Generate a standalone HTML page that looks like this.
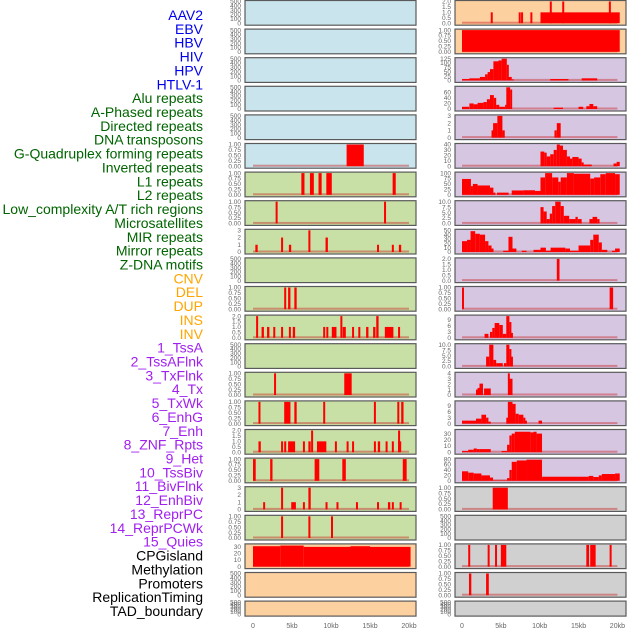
<!DOCTYPE html>
<html><head><meta charset="utf-8"><style>
body{margin:0;background:#fff;width:630px;height:630px;overflow:hidden}
svg{display:block}
</style></head><body>
<svg id="chart" width="630" height="630" xmlns="http://www.w3.org/2000/svg" font-family="Liberation Sans, DejaVu Sans, sans-serif"></svg>
<script>
// ---- labels ----
const labelNames = ["AAV2","EBV","HBV","HIV","HPV","HTLV-1","Alu repeats","A-Phased repeats","Directed repeats","DNA transposons","G-Quadruplex forming repeats","Inverted repeats","L1 repeats","L2 repeats","Low_complexity A/T rich regions","Microsatellites","MIR repeats","Mirror repeats","Z-DNA motifs","CNV","DEL","DUP","INS","INV","1_TssA","2_TssAFlnk","3_TxFlnk","4_Tx","5_TxWk","6_EnhG","7_Enh","8_ZNF_Rpts","9_Het","10_TssBiv","11_BivFlnk","12_EnhBiv","13_ReprPC","14_ReprPCWk","15_Quies","CPGisland","Methylation","Promoters","ReplicationTiming","TAD_boundary"];
const labelGroups = [6,13,5,15,5];
const groupColors = ["#0000ee","#006400","#ffa500","#a020f0","#000000"];
const xTicks = [0,5,10,15,20];
const xTickLabels = ["0","5kb","10kb","15kb","20kb"];

// ---- column 1 data: [startKb, endKb, value] ----
const c1_r5 = [[12.0,14.2,1]];
const c1_r6 = [[6.2,6.6,1],[7.3,7.8,1],[8.4,8.8,1],[9.4,10.1,1],[17.9,18.3,1]];
const c1_r7 = [[2.9,3.1,1],[16.8,17.0,1]];
const c1_r8 = [[0.3,0.6,1],[3.6,3.8,2],[4.6,4.9,1],[7.1,7.3,3],[9.3,9.6,2],[15.9,16.1,1],[17.8,18.0,1],[18.7,19.0,1]];
const c1_r10 = [[4.0,4.25,1],[4.5,4.8,1],[5.3,5.6,1]];
const c1_r11 = [[0.4,0.6,2],[1.1,1.4,1],[1.8,2.1,1],[2.6,2.8,1],[3.6,3.8,1],[4.6,4.8,1],[5.1,5.4,1],[9.0,9.2,1],[9.4,9.6,1],[10.1,10.7,1],[11.2,11.4,2],[11.5,11.9,1],[12.7,12.9,1],[13.5,13.7,1],[14.5,14.8,1],[15.4,15.7,1],[15.8,16.1,2],[16.9,18.0,1],[18.6,18.8,1]];
const c1_r13 = [[2.7,2.9,1],[11.7,12.65,1]];
const c1_r14 = [[0.7,0.95,1],[4.0,4.8,1],[5.3,5.6,1],[9.0,9.2,1],[15.5,15.7,1],[18.5,18.7,1],[19.0,19.3,1]];
const c1_r15 = [[0.7,1.0,1],[3.6,3.8,1],[4.0,4.2,1],[4.5,5.4,1],[6.4,6.6,1],[7.1,7.4,1],[7.45,7.65,2],[8.2,9.4,1],[10.5,10.7,1],[12.0,12.2,1],[12.7,12.9,1],[15.5,15.7,1],[16.0,16.3,1],[17.0,17.2,1],[17.8,18.0,1],[18.6,19.0,1],[18.6,18.75,2]];
const c1_r16 = [[0,0.35,1],[2.2,2.5,1],[7.9,8.5,1],[11.45,11.9,1],[19.2,19.7,1]];
const c1_r17 = [[1.3,1.5,1],[3.6,3.8,3],[4.9,5.5,1],[6.4,6.6,1],[7.1,7.4,3],[9.3,9.5,1],[10.7,10.9,1],[13.2,13.4,1],[15.9,16.1,1],[17.3,17.6,1],[17.8,18.0,1],[18.8,19.0,1]];
const c1_r18 = [[3.6,3.8,1],[7.1,7.3,1],[10.0,10.2,1]];
const c1_r19 = [[0,3.5,31],[3.5,6.5,32],[6.5,12.5,30],[12.5,15,31],[15,20.2,30]];

// ---- column 2 data ----
const c2_r0 = [[3.7,3.9,1],[7.3,7.5,1],[7.6,7.8,1],[8.8,9.0,1],[10.1,20.3,1],[11.3,11.5,2],[12.9,13.1,2],[18.9,19.1,2]];
const c2_r1 = [[0,20.3,1]];
const c2_r2 = [[0,0.94,8],[0.94,2.3,12],[2.3,2.97,20],[2.97,3.3,35],[3.3,3.6,48],[3.6,4.04,65],[4.04,4.7,110],[4.7,5.1,115],[5.1,5.77,125],[5.77,5.98,90],[5.98,6.4,20],[6.4,6.6,6],[11.35,13.7,8],[15.4,17.4,12]];
const c2_r3 = [[0,0.9,8],[0.95,1.5,20],[1.5,2.0,17],[2.0,2.75,22],[2.75,3.2,25],[3.2,3.6,35],[3.6,4.1,50],[4.1,4.4,40],[4.4,4.8,15],[4.8,5.55,8],[5.55,5.7,15],[5.7,6.2,78],[6.2,6.4,70],[11.8,13.0,5],[15.0,15.6,8],[16.0,16.4,10],[16.4,16.9,18],[16.9,17.4,10]];
const c2_r4 = [[3.8,4.0,1],[4.0,4.55,2],[4.55,5.2,3],[5.2,5.5,1],[11.9,12.2,1],[12.2,12.7,2]];
const c2_r5 = [[10.1,10.6,27],[10.6,10.9,25],[10.9,11.35,18],[11.35,11.8,22],[11.8,12.2,30],[12.2,12.6,40],[12.6,13.0,38],[13.0,13.5,30],[13.5,13.9,18],[13.9,14.2,14],[14.2,15.0,17],[15.0,15.4,14],[15.4,15.6,7],[15.6,16.7,3],[19.5,19.9,5],[19.9,20.3,8]];
const c2_r6 = [[0,1.15,73],[1.15,1.4,40],[1.4,2.0,50],[2.0,3.6,43],[3.6,4.04,33],[4.04,4.3,10],[4.5,6.0,10],[6.4,7.9,20],[7.9,9.4,21],[9.4,10.1,18],[10.1,10.7,80],[10.7,11.6,100],[11.6,12.4,80],[12.4,12.7,60],[12.7,13.5,80],[13.5,14.4,100],[14.4,16.5,97],[16.5,17.0,75],[17.0,17.8,80],[17.8,18.5,95],[18.5,19.7,100],[19.7,20.3,95]];
const c2_r7 = [[10.1,10.5,7.5],[10.5,10.9,5.5],[10.9,11.3,2],[11.3,11.6,4.5],[11.6,12.0,8],[12.0,12.7,10],[12.7,13.1,8],[13.1,13.8,3.5],[13.8,14.6,2],[14.6,14.9,3],[14.9,15.4,2],[16.4,16.8,2],[16.8,17.4,3],[17.4,17.7,2]];
const c2_r8 = [[0,0.65,25],[0.65,1.1,28],[1.1,1.7,48],[1.7,2.3,42],[2.3,2.97,40],[2.97,3.4,25],[3.4,3.8,15],[3.8,4.0,8],[5.3,5.98,3],[5.98,6.5,35],[6.5,7.0,8],[7.7,8.3,3],[9.2,10.1,5],[10.1,10.8,10],[10.8,11.4,3],[11.4,13.3,10],[13.3,13.9,8],[13.9,15.0,3],[15.0,16.5,15],[16.5,16.9,28],[16.9,17.6,40],[17.6,18.0,22],[18.0,18.7,5],[19.3,19.7,3],[19.7,20.3,8]];
const c2_r9 = [[12.2,12.55,2]];
const c2_r10 = [[0,0.2,1],[19.0,19.45,1]];
const c2_r11 = [[2.9,3.4,2],[3.6,3.9,3],[3.9,4.2,5],[4.2,4.8,7.5],[4.8,5.25,6.5],[5.25,5.7,2],[5.7,6.1,11],[6.1,6.3,8],[6.3,6.5,2.5]];
const c2_r12 = [[3.1,3.5,4.5],[3.5,4.04,10],[4.04,4.4,3],[4.4,5.25,1.5],[5.4,5.7,1.5],[5.7,6.1,10],[6.1,6.3,8],[6.3,6.5,4.5]];
const c2_r13 = [[1.8,2.0,1],[2.0,2.25,1.3],[2.25,2.7,2.1],[2.84,3.7,1.2],[5.9,6.1,4],[6.1,6.5,3]];
const c2_r14 = [[0,1.8,1.5],[1.8,2.5,2.5],[2.5,3.1,4.5],[3.1,3.4,3],[3.4,3.7,1],[5.7,5.9,3],[5.9,6.5,11],[6.5,6.9,10],[6.9,7.3,5],[7.3,7.9,4.5],[7.9,8.1,3],[8.1,8.3,1.5],[9.85,10.3,1.5]];
const c2_r15 = [[0,0.8,2],[0.8,1.5,4],[1.5,1.9,6],[1.9,2.3,5],[2.3,3.7,5],[5.1,5.8,2],[5.8,6.1,12],[6.1,6.4,27],[6.4,6.8,30],[6.8,8.8,33],[8.8,9.2,32],[9.2,9.6,33],[9.6,10.3,30]];
const c2_r16 = [[0,0.8,35],[0.8,1.5,30],[1.5,2.5,27],[2.5,3.6,20],[3.6,4.0,12],[4.0,5.8,2],[5.8,6.1,10],[6.1,6.4,40],[6.4,7.05,70],[7.05,8.3,75],[8.3,10.3,78],[10.3,16.3,15],[16.3,16.9,18],[16.9,17.6,14],[17.6,18.0,20],[18.0,19.7,25],[19.7,20.3,27]];
const c2_r17 = [[3.95,5.9,1]];
const c2_r19 = [[0.8,1.0,1],[3.3,3.45,1],[4.25,4.5,1],[5.0,5.7,1],[16.0,16.35,1],[16.5,17.2,1],[19.0,19.2,1]];
const c2_r20 = [[0.9,1.2,1],[3.1,3.45,1]];

// ---- y-axis tick sets ----
const ticksEmpty = [0,100,200,300,400,500];
const ticksFrac = [0,0.25,0.5,0.75,1.0];
const ticks0to3 = [0,1,2,3];
const ticks0to2 = [0,0.5,1.0,1.5,2.0];
const ticksFracLabels = ["0.00","0.25","0.50","0.75","1.00"];
const ticks0to2Labels = ["0.0","0.5","1.0","1.5","2.0"];

// panel configs: [row, data, ymax, ticks, tickLabels, bg]
const BL="#c9e4ec",GR="#c8e0a5",PE="#fdd09f",LV="#d6c6e2",GY="#d0d0d0";
const col1 = [
 [0,null,500,ticksEmpty,null,BL],[1,null,500,ticksEmpty,null,BL],[2,null,500,ticksEmpty,null,BL],[3,null,500,ticksEmpty,null,BL],[4,null,500,ticksEmpty,null,BL],
 [5,c1_r5,1,ticksFrac,ticksFracLabels,BL],[6,c1_r6,1,ticksFrac,ticksFracLabels,GR],[7,c1_r7,1,ticksFrac,ticksFracLabels,GR],
 [8,c1_r8,3,ticks0to3,null,GR],[9,null,500,ticksEmpty,null,GR],[10,c1_r10,1,ticksFrac,ticksFracLabels,GR],
 [11,c1_r11,2,ticks0to2,ticks0to2Labels,GR],[12,null,500,ticksEmpty,null,GR],[13,c1_r13,1,ticksFrac,ticksFracLabels,GR],
 [14,c1_r14,1,ticksFrac,ticksFracLabels,GR],[15,c1_r15,2,ticks0to2,ticks0to2Labels,GR],[16,c1_r16,1,ticksFrac,ticksFracLabels,GR],
 [17,c1_r17,3,ticks0to3,null,GR],[18,c1_r18,1,ticksFrac,ticksFracLabels,GR],[19,c1_r19,33,[0,10,20,30],null,PE],
 [20,null,500,ticksEmpty,null,PE],[21,null,500,ticksEmpty,null,PE]
];
const col2 = [
 [0,c2_r0,2,ticks0to2,ticks0to2Labels,PE],[1,c2_r1,1,ticksFrac,ticksFracLabels,PE],
 [2,c2_r2,125,[0,25,50,75,100,125],null,LV],[3,c2_r3,78,[0,20,40,60],null,LV],[4,c2_r4,3,ticks0to3,null,LV],
 [5,c2_r5,40,[0,10,20,30,40],null,LV],[6,c2_r6,100,[0,25,50,75,100],null,LV],[7,c2_r7,10,[0,2.5,5,7.5,10],["0.0","2.5","5.0","7.5","10.0"],LV],
 [8,c2_r8,50,[0,10,20,30,40,50],null,LV],[9,c2_r9,2,ticks0to2,ticks0to2Labels,LV],[10,c2_r10,1,ticksFrac,ticksFracLabels,LV],
 [11,c2_r11,11,[0,3,6,9],null,LV],[12,c2_r12,10,[0,2.5,5,7.5,10],["0.0","2.5","5.0","7.5","10.0"],LV],[13,c2_r13,4,[0,1,2,3,4],null,LV],
 [14,c2_r14,11,[0,3,6,9],null,LV],[15,c2_r15,35,[0,10,20,30],null,LV],[16,c2_r16,80,[0,20,40,60,80],null,LV],
 [17,c2_r17,1,ticksFrac,ticksFracLabels,GY],[18,null,500,ticksEmpty,null,GY],[19,c2_r19,1,ticksFrac,ticksFracLabels,GY],
 [20,c2_r20,1,ticksFrac,ticksFracLabels,GY],[21,null,500,ticksEmpty,null,GY]
];

const NS="http://www.w3.org/2000/svg";
const svg=document.getElementById('chart');
function mk(tag,attrs,parent){const e=document.createElementNS(NS,tag);for(const k in attrs)e.setAttribute(k,attrs[k]);(parent||svg).appendChild(e);return e;}

// left labels
let li=0;
labelGroups.forEach((n,g)=>{for(let k=0;k<n;k++){
  const t=mk('text',{x:203,y:15+li*13.86+5,'text-anchor':'end','font-size':'14',fill:groupColors[g]});
  t.textContent=labelNames[li];
  
  
  li++;}});

function drawCol(cfg,left,right,x0,pxkb,tickRight,colName){
  const xs=kb=>x0+kb*pxkb;
  cfg.forEach(([row,data,ymax,ticks,tl,bg])=>{
    const top=row*28.6, h=row===21?15:24.7;
    const g=mk('g',{});
    
    
    const r=mk('rect',{x:left,y:top+0.5,width:right-left,height:h,fill:bg,stroke:'#5a5a5a','stroke-width':1.2},g);
    
    
    const yb=top+h-1.5, yt=top+1.5;
    const ys=v=>yb-(v/ymax)*(yb-yt);
    ticks.forEach((tv,i)=>{
      const t=mk('text',{x:tickRight,y:ys(tv)+2.2,'text-anchor':'end','font-size':'6.5',fill:'#666'},g);
      t.textContent=tl?tl[i]:String(tv);
      
      
    });
    if(data){
      const bl=mk('rect',{x:xs(0),y:yb-1.5,width:xs(20)-xs(0),height:2,fill:'rgba(200,40,40,0.45)'},g);
      
      
      data.forEach(([s,e,v])=>{
        const xa=xs(s), w=Math.max(2,xs(e)-xa);
        const b=mk('rect',{x:xa,y:ys(v),width:w,height:yb-ys(v),fill:'#ff0000'},g);
        
        
      });
    }
  });
  xTicks.forEach((tv,i)=>{
    const t=mk('text',{x:xs(tv),y:628,'text-anchor':'middle','font-size':'7',fill:'#666'});
    t.textContent=xTickLabels[i];
    
    
  });
}
drawCol(col1,245,416,253,7.8,241,'left');
drawCol(col2,455,626,462,7.77,451,'right');
</script>
</body></html>
